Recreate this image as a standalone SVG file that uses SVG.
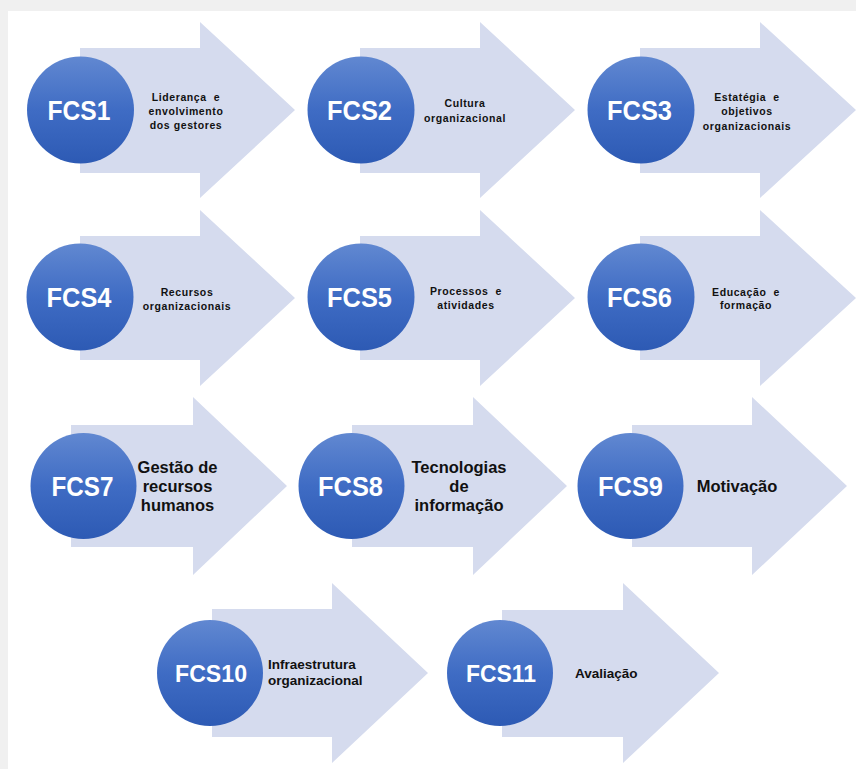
<svg xmlns="http://www.w3.org/2000/svg" width="856" height="769" viewBox="0 0 856 769">
<defs>
<linearGradient id="cg" x1="0" y1="0" x2="0" y2="1">
<stop offset="0" stop-color="#6188d1"/>
<stop offset="0.5" stop-color="#3f6cc4"/>
<stop offset="1" stop-color="#2d5ab4"/>
</linearGradient>
</defs>
<style>
.arr{fill:#d5dbee}
.cir{fill:url(#cg)}
.id{font-family:"Liberation Sans",Arial,sans-serif;font-weight:bold;fill:#ffffff;text-anchor:middle}
.s{font-family:"Liberation Sans",Arial,sans-serif;font-weight:bold;font-size:10.5px;letter-spacing:0.6px;fill:#111;text-anchor:middle;white-space:pre}
.m{font-family:"Liberation Sans",Arial,sans-serif;font-weight:bold;font-size:16.5px;fill:#111;text-anchor:middle}
.n{font-family:"Liberation Sans",Arial,sans-serif;font-weight:bold;font-size:13.5px;fill:#111}
</style>
<rect x="0" y="0" width="856" height="769" fill="#f0f0f0"/>
<rect x="8" y="11" width="848" height="758" fill="#ffffff"/>

<g id="FCS1">
<path class="arr" d="M80,48 H200 V22 L295,110 L200,198 V173 H80 Z"/>
<circle class="cir" cx="80.5" cy="110" r="53.5"/>
<text class="id" x="79" y="120" font-size="28" textLength="63" lengthAdjust="spacingAndGlyphs">FCS1</text>
<text class="s"><tspan x="186" y="101">Liderança  e</tspan><tspan x="186" y="115">envolvimento</tspan><tspan x="186" y="129">dos gestores</tspan></text>
</g>
<g id="FCS2">
<path class="arr" d="M360,48 H480 V22 L575,110 L480,198 V173 H360 Z"/>
<circle class="cir" cx="361" cy="110" r="53.5"/>
<text class="id" x="359.5" y="120" font-size="28" textLength="65" lengthAdjust="spacingAndGlyphs">FCS2</text>
<text class="s"><tspan x="465" y="107">Cultura</tspan><tspan x="465" y="122">organizacional</tspan></text>
</g>
<g id="FCS3">
<path class="arr" d="M640,48 H760 V22 L856,110 L760,198 V173 H640 Z"/>
<circle class="cir" cx="641" cy="110" r="53.5"/>
<text class="id" x="639.5" y="120" font-size="28" textLength="65" lengthAdjust="spacingAndGlyphs">FCS3</text>
<text class="s"><tspan x="747" y="101">Estatégia  e</tspan><tspan x="747" y="115">objetivos</tspan><tspan x="747" y="130">organizacionais</tspan></text>
</g>

<g id="FCS4">
<path class="arr" d="M80,236 H200 V210 L295,298 L200,386 V360 H80 Z"/>
<circle class="cir" cx="80" cy="297" r="53.5"/>
<text class="id" x="79" y="307" font-size="28" textLength="65" lengthAdjust="spacingAndGlyphs">FCS4</text>
<text class="s"><tspan x="187" y="296">Recursos</tspan><tspan x="187" y="310">organizacionais</tspan></text>
</g>
<g id="FCS5">
<path class="arr" d="M360,236 H480 V210 L575,298 L480,386 V360 H360 Z"/>
<circle class="cir" cx="361" cy="297" r="53.5"/>
<text class="id" x="359.5" y="307" font-size="28" textLength="65" lengthAdjust="spacingAndGlyphs">FCS5</text>
<text class="s"><tspan x="466" y="295">Processos  e</tspan><tspan x="466" y="309">atividades</tspan></text>
</g>
<g id="FCS6">
<path class="arr" d="M640,236 H760 V210 L856,298 L760,386 V360 H640 Z"/>
<circle class="cir" cx="641" cy="297" r="53.5"/>
<text class="id" x="639.5" y="307" font-size="28" textLength="65" lengthAdjust="spacingAndGlyphs">FCS6</text>
<text class="s"><tspan x="746" y="296">Educação  e</tspan><tspan x="746" y="309">formação</tspan></text>
</g>

<g id="FCS7">
<path class="arr" d="M71,425 H193 V397 L287,486 L193,575 V547 H71 Z"/>
<circle class="cir" cx="83.5" cy="486" r="53"/>
<text class="id" x="82.5" y="496" font-size="28" textLength="62" lengthAdjust="spacingAndGlyphs">FCS7</text>
<text class="m"><tspan x="177.5" y="473">Gestão de</tspan><tspan x="177.5" y="492">recursos</tspan><tspan x="177.5" y="511">humanos</tspan></text>
</g>
<g id="FCS8">
<path class="arr" d="M352,425 H473 V397 L567,486 L473,575 V547 H352 Z"/>
<circle class="cir" cx="351.5" cy="486" r="53"/>
<text class="id" x="350.5" y="496" font-size="28" textLength="65" lengthAdjust="spacingAndGlyphs">FCS8</text>
<text class="m"><tspan x="459" y="473">Tecnologias</tspan><tspan x="459" y="492">de</tspan><tspan x="459" y="511">informação</tspan></text>
</g>
<g id="FCS9">
<path class="arr" d="M632,425 H752 V397 L847,486 L752,575 V547 H632 Z"/>
<circle class="cir" cx="630.5" cy="486" r="53"/>
<text class="id" x="630.5" y="496" font-size="28" textLength="65" lengthAdjust="spacingAndGlyphs">FCS9</text>
<text class="m" x="737" y="492">Motivação</text>
</g>

<g id="FCS10">
<path class="arr" d="M212,609 H332 V583 L428,673 L332,763 V737 H212 Z"/>
<circle class="cir" cx="210" cy="673" r="53"/>
<text class="id" x="211" y="682" font-size="24" textLength="72" lengthAdjust="spacingAndGlyphs">FCS10</text>
<text class="n"><tspan x="268" y="669">Infraestrutura</tspan><tspan x="268" y="685">organizacional</tspan></text>
</g>
<g id="FCS11">
<path class="arr" d="M502,610 H623 V583 L719,673 L623,763 V737 H502 Z"/>
<circle class="cir" cx="500" cy="673" r="53"/>
<text class="id" x="501" y="682" font-size="24" textLength="70" lengthAdjust="spacingAndGlyphs">FCS11</text>
<text class="n" x="575" y="678">Avaliação</text>
</g>
</svg>
